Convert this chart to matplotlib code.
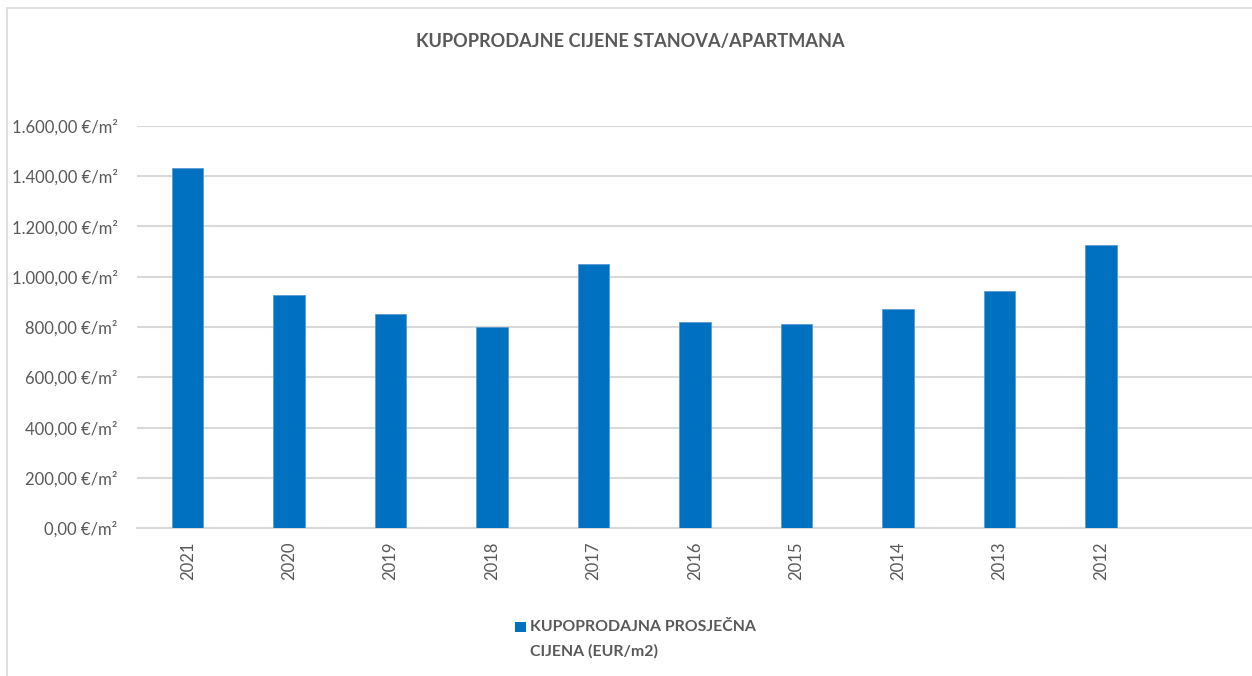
import matplotlib.pyplot as plt
from matplotlib.patches import Rectangle
from matplotlib.ticker import FuncFormatter

plt.rcParams['font.family'] = ['Lato', 'DejaVu Sans']

godine = ['2021', '2020', '2019', '2018', '2017', '2016', '2015', '2014', '2013', '2012']
cijene = [1434, 927, 853, 801, 1052, 820, 812, 871, 943, 1127]
y_ticks = [0, 200, 400, 600, 800, 1000, 1200, 1400, 1600]

siva = '#595959'
plava = '#0070C0'

fig = plt.figure(figsize=(12.52, 6.76), dpi=100)
W, H = 1252, 676

# okvir grafikona (desni i donji rub su odrezani)
fig.patches.append(Rectangle((7 / W, -0.1), 1.2, 1 - 8 / H + 0.1, transform=fig.transFigure,
                             facecolor='none', edgecolor='#d9d9d9', linewidth=1.2))

ax = fig.add_axes([137 / W, 1 - 528 / H, (1253 - 137) / W, (528 - 126) / H])
x = list(range(len(godine)))
ax.bar(x, cijene, width=0.31, color=plava, edgecolor='#5b9bd5', linewidth=0.6, zorder=3)

ax.set_xlim(-0.5, 10.5)
ax.set_ylim(0, 1600)
ax.set_yticks(y_ticks)
ax.yaxis.set_major_formatter(FuncFormatter(
    lambda v, p: ('{:,.2f}'.format(v)).replace(',', 'X').replace('.', ',').replace('X', '.') + ' €/m²'))
ax.set_xticks(x)
ax.set_xticklabels(godine, rotation=90)
ax.tick_params(axis='both', length=0, labelsize=12, labelcolor=siva)
ax.tick_params(axis='x', pad=10)
ax.tick_params(axis='y', pad=14)
ax.grid(axis='y', color='#d9d9d9', linewidth=1.5, zorder=0)
for s in ['top', 'right', 'left']:
    ax.spines[s].set_visible(False)
ax.spines['bottom'].set_color('#d9d9d9')
ax.spines['bottom'].set_linewidth(1.5)

fig.text(630 / W, 1 - 42 / H, 'KUPOPRODAJNE CIJENE STANOVA/APARTMANA', ha='center', va='center',
         fontsize=13.1, fontweight='bold', color=siva)

# legenda
fig.patches.append(Rectangle((515 / W, 1 - 632 / H), 11 / W, 10 / H, transform=fig.transFigure,
                             facecolor=plava, edgecolor='none'))
fig.text(530 / W, 1 - 627 / H, 'KUPOPRODAJNA PROSJEČNA', ha='left', va='center',
         fontsize=11.4, fontweight='bold', color=siva)
fig.text(530 / W, 1 - 651 / H, 'CIJENA (EUR/m2)', ha='left', va='center',
         fontsize=11.4, fontweight='bold', color=siva)

fig.savefig('out.png', dpi=100, facecolor='white')
